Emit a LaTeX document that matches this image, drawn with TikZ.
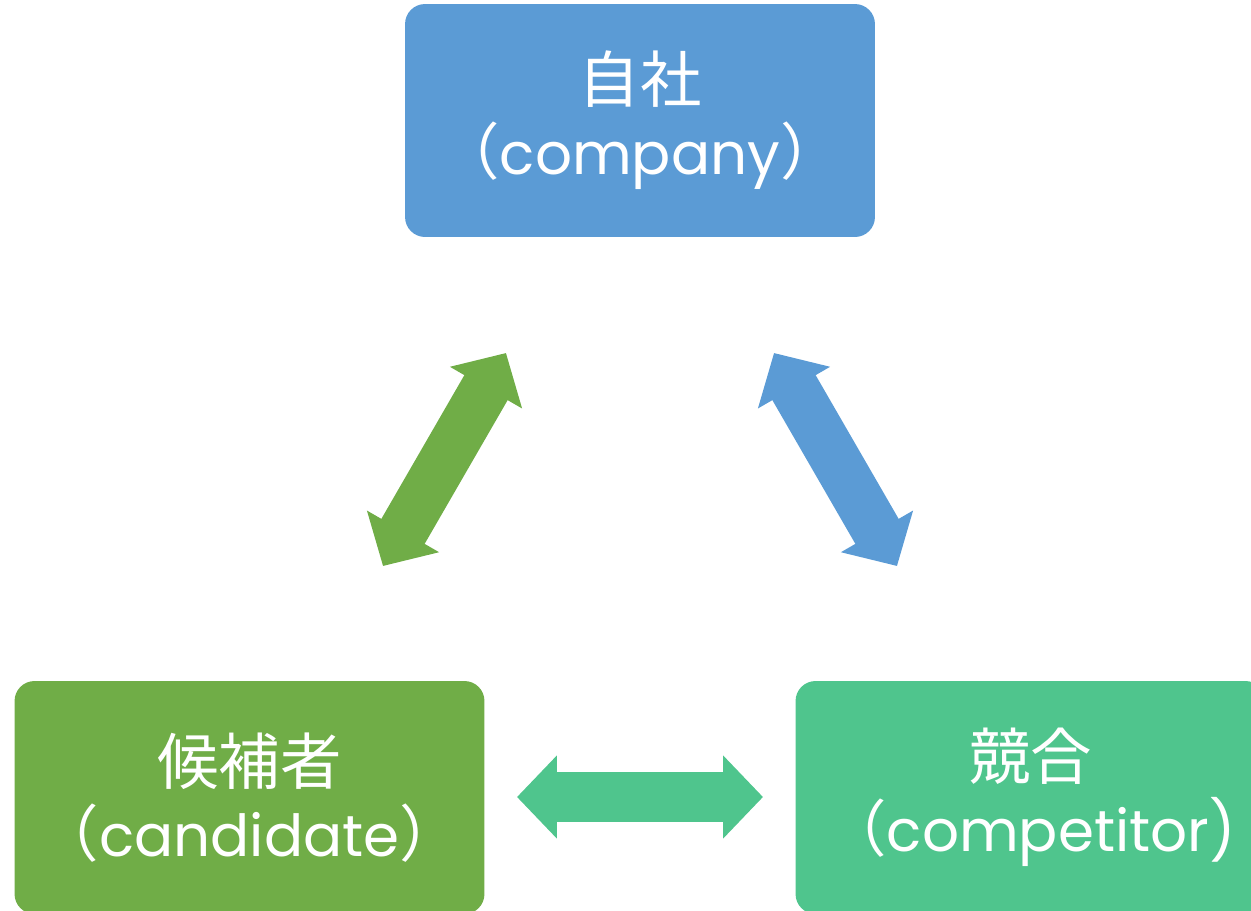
\documentclass[tikz,border=0pt]{standalone}
\usepackage{fontspec}
\setmainfont{Poppins}
\newfontfamily\cjk[Scale=1.06]{Noto Sans CJK JP}
\usetikzlibrary{arrows.meta}
\definecolor{cblue}{HTML}{5B9BD5}
\definecolor{cgreen}{HTML}{70AD47}
\definecolor{cteal}{HTML}{4FC58D}
\tikzset{box/.style={rectangle,rounded corners=0.4cm,minimum width=9.4cm,minimum height=4.66cm,text=white,align=center,inner sep=0pt,font=\fontsize{33}{41}\selectfont}}
\tikzset{dbl/.style={line width=1cm,{Triangle[length=0.8cm,width=1.62cm]}-{Triangle[length=0.8cm,width=1.62cm]}}}

\begin{document}
\begin{tikzpicture}[x=0.02cm,y=-0.02cm]
\useasboundingbox (0,0) rectangle (1251,910);
\node (company) at (640,120.5) [box,fill=cblue] {{\cjk 自社}\\{\cjk （}company{\cjk ）}};
\node (candidate) at (249.5,797.5) [box,fill=cgreen] {{\cjk 候補者}\\{\cjk （}candidate{\cjk ）}};
\node (competitor) at (1030.5,797.5) [box,fill=cteal] {{\cjk 競合}\\{\cjk （}competitor)};
\coordinate (g1) at (383,566);
\coordinate (g2) at (506,353);
\coordinate (b1) at (774,353);
\coordinate (b2) at (897,566);
\coordinate (t1) at (517,797);
\coordinate (t2) at (763,797);
\draw[dbl,cgreen] (g1)--(g2);
\draw[dbl,cblue] (b1)--(b2);
\draw[dbl,cteal] (t1)--(t2);
\end{tikzpicture}
\end{document}
